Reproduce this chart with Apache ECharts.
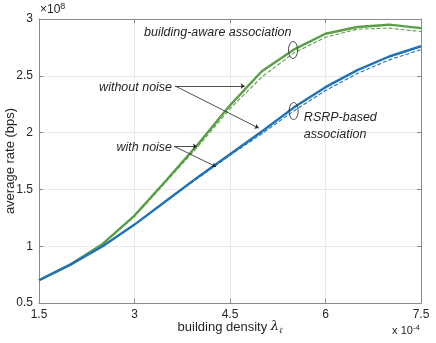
<!DOCTYPE html>
<html>
<head>
    <meta charset="UTF-8">
    <title>average rate vs building density</title>
    <script src="https://cdn.jsdelivr.net/npm/echarts/dist/echarts.min.js"></script>
    <style>
    body { margin: 0; background: #fff; }
    #chart { width: 436px; height: 343px; }
  </style>
</head>
<body>
<div id="chart"></div>
<script>
    // building density (x 10^-4)
    var density = [1.5, 2, 2.5, 3, 3.5, 4, 4.5, 5, 5.5, 6, 6.5, 7, 7.5];
    // average rate (x 10^8 bps)
    var awareNoNoise = [0.70, 0.84, 1.02, 1.27, 1.58, 1.90, 2.24, 2.54, 2.73, 2.87, 2.93, 2.95, 2.92];
    var awareNoise   = [0.70, 0.84, 1.02, 1.26, 1.57, 1.88, 2.21, 2.49, 2.70, 2.84, 2.91, 2.92, 2.89];
    var rsrpNoNoise  = [0.70, 0.84, 1.00, 1.19, 1.40, 1.61, 1.81, 2.01, 2.22, 2.40, 2.55, 2.67, 2.76];
    var rsrpNoise    = [0.70, 0.84, 1.00, 1.19, 1.40, 1.60, 1.80, 1.99, 2.19, 2.37, 2.52, 2.64, 2.73];
    var xTicks = [1.5, 3, 4.5, 6, 7.5];
    var yTicks = [0.5, 1, 1.5, 2, 2.5, 3];

    var green = '#5a9e48';
    var blue = '#1f72b8';
    var font = 'Liberation Sans, Arial, Helvetica, sans-serif';

    function pairs(ys) {
      return density.map(function (x, i) { return [x, ys[i]]; });
    }

    // annotation arrows, in data coordinates
    var arrows = [
      [[3.64, 2.41], [4.73, 2.41]],
      [[3.64, 2.41], [4.95, 2.04]],
      [[3.62, 1.88], [3.98, 1.88]],
      [[3.62, 1.88], [4.28, 1.70]]
    ];

    var myChart = echarts.init(document.getElementById('chart'));

    var baseAxis = {
      type: 'value',
      axisLine: { show: true, lineStyle: { color: '#8a8a8a', width: 1 } },
      axisTick: { show: true, inside: true, length: 4, lineStyle: { color: '#8a8a8a' } },
      splitLine: { show: false },
      axisLabel: { show: false }
    };

    var option = {
      animation: false,
      grid: { left: 39, right: 15, top: 19, bottom: 40, containLabel: false, outerBoundsMode: 'none' },
      xAxis: [
        echarts.util.merge({
          min: 1.5, max: 7.5, interval: 1.5,
          name: '{t|building density }{l|λ}{s|ℓ}',
          nameLocation: 'middle', nameGap: 16, nameMoveOverlap: false,
          nameTextStyle: {
            rich: {
              t: { fontFamily: font, fontSize: 13, color: '#262626' },
              l: { fontFamily: 'DejaVu Serif, serif', fontStyle: 'italic', fontSize: 13, color: '#262626' },
              s: { fontFamily: 'DejaVu Serif, serif', fontStyle: 'italic', fontSize: 8, color: '#262626', padding: [8, 0, 0, 0] }
            }
          },
          axisLabel: { show: true, margin: 6, fontFamily: font, fontSize: 12, color: '#262626',
            formatter: function (v) { return xTicks.indexOf(v) >= 0 ? String(v) : ''; } },
          splitLine: { show: true, lineStyle: { color: '#e8e8e8', width: 1 } }
        }, baseAxis, false),
        echarts.util.merge({ position: 'top', min: 1.5, max: 7.5, interval: 1.5 }, baseAxis, false)
      ],
      yAxis: [
        echarts.util.merge({
          min: 0.5, max: 3, interval: 0.5,
          name: 'average rate (bps)',
          nameLocation: 'middle', nameGap: 22, nameMoveOverlap: false,
          nameTextStyle: { fontFamily: font, fontSize: 13, color: '#262626' },
          axisLabel: { show: true, margin: 6, fontFamily: font, fontSize: 12, color: '#262626',
            formatter: function (v) { return yTicks.indexOf(v) >= 0 ? String(v) : ''; } },
          splitLine: { show: true, lineStyle: { color: '#e8e8e8', width: 1 } }
        }, baseAxis, false),
        echarts.util.merge({ position: 'right', min: 0.5, max: 3, interval: 0.5 }, baseAxis, false)
      ],
      series: [
        { name: 'aware', type: 'line', data: pairs(awareNoNoise), showSymbol: false,
          lineStyle: { color: green, width: 2.4 }, z: 3 },
        { name: 'aware noise', type: 'line', data: pairs(awareNoise), showSymbol: false,
          lineStyle: { color: green, width: 1.1, type: [4, 2] }, z: 2 },
        { name: 'rsrp', type: 'line', data: pairs(rsrpNoNoise), showSymbol: false,
          lineStyle: { color: blue, width: 2.4 }, z: 3 },
        { name: 'rsrp noise', type: 'line', data: pairs(rsrpNoise), showSymbol: false,
          lineStyle: { color: blue, width: 1.1, type: [4, 2] }, z: 2 },
        { type: 'lines', coordinateSystem: 'cartesian2d', z: 5,
          symbol: ['none', 'arrow'], symbolSize: 4,
          lineStyle: { color: '#222', width: 0.8, opacity: 1 },
          data: arrows.map(function (a) { return { coords: a }; }) }
      ]
    };
    myChart.setOption(option);

    function px(x, y) { return myChart.convertToPixel({ gridIndex: 0 }, [x, y]); }

    var tA = px(3.15, 2.877);
    var tWithout = px(3.59, 2.40);
    var tWith = px(3.59, 1.873);
    var tR1 = px(5.66, 2.13);
    var tR2 = px(5.66, 1.98);
    var e1 = px(5.49, 2.727);
    var e2 = px(5.50, 2.19);
    var corner = px(1.5, 3);
    var xEnd = px(7.5, 0.5);

    var it = { fontFamily: font, fontSize: 12.5, fontStyle: 'italic', fill: '#262626' };
    function txt(p, s, align) {
      return { type: 'text', x: p[0], y: p[1], style: Object.assign({ text: s, align: align, verticalAlign: 'middle' }, it) };
    }
    function ell(p) {
      return { type: 'ellipse', shape: { cx: p[0], cy: p[1], rx: 4.5, ry: 8.5 },
        style: { fill: 'none', stroke: '#333', lineWidth: 0.9 }, z: 10 };
    }

    myChart.setOption({
      graphic: [
        txt(tA, 'building-aware association', 'left'),
        txt(tWithout, 'without noise', 'right'),
        txt(tWith, 'with noise', 'right'),
        txt(tR1, 'RSRP-based', 'left'),
        txt(tR2, 'association', 'left'),
        ell(e1),
        ell(e2),
        { type: 'text', x: corner[0] + 1, y: corner[1] - 1,
          style: { text: '{a|×10}{b|8}', verticalAlign: 'bottom', rich: {
            a: { fontFamily: font, fontSize: 12, fill: '#262626' },
            b: { fontFamily: font, fontSize: 9, fill: '#262626', padding: [0, 0, 7, 0] } } } },
        { type: 'text', x: xEnd[0] - 1, y: xEnd[1] + 28,
          style: { text: '{a|x 10}{b|-4}', align: 'right', verticalAlign: 'middle', rich: {
            a: { fontFamily: font, fontSize: 11, fill: '#262626' },
            b: { fontFamily: font, fontSize: 8, fill: '#262626', padding: [0, 0, 6, 0] } } } }
      ]
    });
</script>
</body>
</html>
